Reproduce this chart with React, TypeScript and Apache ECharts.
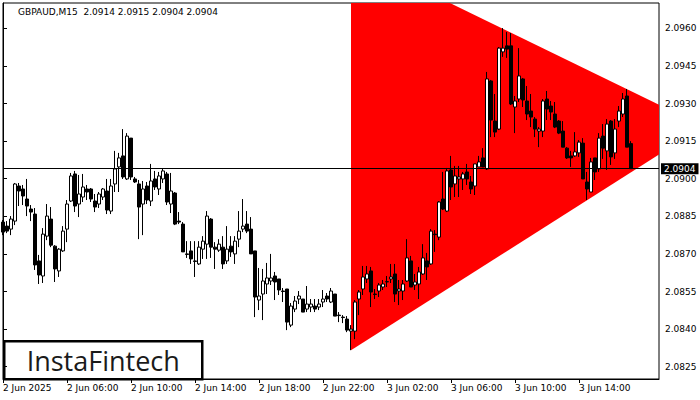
import React, { useEffect, useRef } from "react";
import * as echarts from "echarts";

const xLabels = ["2 Jun 2025", "2 Jun 06:00", "2 Jun 10:00", "2 Jun 14:00", "2 Jun 18:00", "2 Jun 22:00", "3 Jun 02:00", "3 Jun 06:00", "3 Jun 10:00", "3 Jun 14:00"];
const barsPerLabel = 16;
const slotCount = 165;

const opens = [
  2.08827, 2.08811, 2.08799, 2.08831, 2.08971, 2.08959, 2.08919, 2.08879, 2.08859, 2.08672,
  2.08612, 2.08771, 2.08839, 2.08731, 2.08632, 2.08712, 2.08799, 2.08911, 2.09019, 2.08899,
  2.08927, 2.08959, 2.08959, 2.08911, 2.08899, 2.08927, 2.08951, 2.08871, 2.08979, 2.09047,
  2.09091, 2.08999, 2.09162, 2.08999, 2.08979, 2.08899, 2.08971, 2.08911, 2.08999, 2.08959,
  2.08999, 2.09019, 2.08899, 2.08943, 2.08831, 2.08819, 2.08700, 2.08712, 2.08672, 2.08660,
  2.08719, 2.08739, 2.08839, 2.08727, 2.08715, 2.08727, 2.08672, 2.08731, 2.08700, 2.08759,
  2.08799, 2.08819, 2.08799, 2.08712, 2.08516, 2.08540, 2.08580, 2.08592, 2.08612, 2.08600,
  2.08552, 2.08560, 2.08416, 2.08480, 2.08520, 2.08520, 2.08480, 2.08488, 2.08492, 2.08488,
  2.08508, 2.08532, 2.08508, 2.08540, 2.08456, 2.08448, 2.08440, 2.08392, 2.08392, 2.08520,
  2.08560, 2.08600, 2.08632, 2.08540, 2.08552, 2.08568, 2.08588, 2.08600, 2.08620, 2.08552,
  2.08552, 2.08592, 2.08672, 2.08576, 2.08580, 2.08620, 2.08672, 2.08660, 2.08779, 2.08767,
  2.08919, 2.08871, 2.09035, 2.08979, 2.08999, 2.08999, 2.09027, 2.08987, 2.08971, 2.09047,
  2.09083, 2.09039, 2.09390, 2.09230, 2.09198, 2.09506, 2.09530, 2.09530, 2.09286, 2.09318,
  2.09398, 2.09310, 2.09270, 2.09238, 2.09190, 2.09190, 2.09318, 2.09290, 2.09258, 2.09230,
  2.09190, 2.09122, 2.09091, 2.09091, 2.09103, 2.09142, 2.08987, 2.08947, 2.09083, 2.09039,
  2.09170, 2.09111, 2.09230, 2.09103, 2.09230, 2.09258, 2.09330, 2.0914,
];
const highs = [
  2.08835, 2.08831, 2.08851, 2.08983, 2.08983, 2.08975, 2.08999, 2.08895, 2.08883, 2.08696,
  2.08803, 2.08899, 2.08887, 2.08735, 2.08723, 2.08811, 2.08915, 2.09023, 2.09031, 2.09015,
  2.09019, 2.08975, 2.08963, 2.08939, 2.08947, 2.08963, 2.08999, 2.08999, 2.09111, 2.09103,
  2.09198, 2.09182, 2.09162, 2.09007, 2.08995, 2.08991, 2.08987, 2.09059, 2.09031, 2.09027,
  2.09039, 2.09027, 2.09023, 2.08947, 2.08867, 2.08827, 2.08751, 2.08751, 2.08751, 2.08751,
  2.08771, 2.08871, 2.08843, 2.08747, 2.08759, 2.08771, 2.08811, 2.08771, 2.08771, 2.08871,
  2.08919, 2.08871, 2.08847, 2.08712, 2.08644, 2.08640, 2.08664, 2.08700, 2.08628, 2.08600,
  2.08564, 2.08560, 2.08504, 2.08532, 2.08552, 2.08520, 2.08572, 2.08520, 2.08520, 2.08520,
  2.08556, 2.08544, 2.08564, 2.08540, 2.08468, 2.08456, 2.08452, 2.08416, 2.08516, 2.08556,
  2.08652, 2.08652, 2.08648, 2.08560, 2.08584, 2.08596, 2.08612, 2.08660, 2.08660, 2.08596,
  2.08596, 2.08759, 2.08692, 2.08620, 2.08648, 2.08739, 2.08704, 2.08799, 2.08795, 2.08911,
  2.09027, 2.09043, 2.09091, 2.09051, 2.09051, 2.09027, 2.09059, 2.09011, 2.09059, 2.09091,
  2.09122, 2.09426, 2.09394, 2.09338, 2.09525, 2.09601, 2.09585, 2.09581, 2.09330, 2.09521,
  2.09402, 2.09370, 2.09338, 2.09246, 2.09206, 2.09318, 2.09350, 2.09310, 2.09306, 2.09234,
  2.09230, 2.09126, 2.09111, 2.09186, 2.09154, 2.09162, 2.09027, 2.09083, 2.09083, 2.09182,
  2.09218, 2.09238, 2.09234, 2.09238, 2.09290, 2.09342, 2.09358, 2.0915,
];
const lows = [
  2.08775, 2.08783, 2.08775, 2.08815, 2.08891, 2.08895, 2.08851, 2.08831, 2.08636, 2.08580,
  2.08584, 2.08755, 2.08727, 2.08588, 2.08608, 2.08708, 2.08747, 2.08907, 2.08867, 2.08847,
  2.08907, 2.08915, 2.08907, 2.08867, 2.08883, 2.08915, 2.08859, 2.08859, 2.08947, 2.08947,
  2.08999, 2.08995, 2.08995, 2.08983, 2.08759, 2.08775, 2.08899, 2.08891, 2.08955, 2.08935,
  2.08983, 2.08895, 2.08863, 2.08815, 2.08819, 2.08708, 2.08684, 2.08660, 2.08608, 2.08656,
  2.08680, 2.08680, 2.08684, 2.08640, 2.08708, 2.08640, 2.08660, 2.08688, 2.08660, 2.08727,
  2.08787, 2.08783, 2.08700, 2.08448, 2.08476, 2.08436, 2.08540, 2.08576, 2.08516, 2.08536,
  2.08508, 2.08396, 2.08408, 2.08468, 2.08500, 2.08468, 2.08468, 2.08468, 2.08468, 2.08476,
  2.08488, 2.08508, 2.08504, 2.08452, 2.08428, 2.08424, 2.08388, 2.08316, 2.08360, 2.08456,
  2.08536, 2.08584, 2.08488, 2.08520, 2.08528, 2.08556, 2.08568, 2.08584, 2.08508, 2.08496,
  2.08516, 2.08588, 2.08568, 2.08556, 2.08520, 2.08616, 2.08596, 2.08656, 2.08708, 2.08755,
  2.08875, 2.08867, 2.08915, 2.08927, 2.08927, 2.08955, 2.08975, 2.08939, 2.08935, 2.09047,
  2.09047, 2.09035, 2.09166, 2.09166, 2.09194, 2.09486, 2.09482, 2.09294, 2.09182, 2.09306,
  2.09286, 2.09234, 2.09206, 2.09166, 2.09126, 2.09166, 2.09234, 2.09234, 2.09202, 2.09178,
  2.09126, 2.09079, 2.09047, 2.09087, 2.09087, 2.08999, 2.08915, 2.08947, 2.08995, 2.09027,
  2.09079, 2.09035, 2.09055, 2.09079, 2.09206, 2.09246, 2.09126, 2.0904,
];
const closes = [
  2.08787, 2.08791, 2.08839, 2.08979, 2.08951, 2.08931, 2.08891, 2.08867, 2.08656, 2.08616,
  2.08779, 2.08851, 2.08735, 2.08640, 2.08719, 2.08791, 2.08899, 2.09011, 2.08891, 2.08939,
  2.08967, 2.08947, 2.08919, 2.08887, 2.08939, 2.08959, 2.08875, 2.08971, 2.09039, 2.09083,
  2.09007, 2.09170, 2.09007, 2.08987, 2.08887, 2.08959, 2.08915, 2.08991, 2.08967, 2.09011,
  2.09031, 2.08907, 2.08951, 2.08819, 2.08827, 2.08708, 2.08698, 2.08680, 2.08670, 2.08727,
  2.08751, 2.08851, 2.08727, 2.08719, 2.08739, 2.08660, 2.08719, 2.08708, 2.08751, 2.08791,
  2.08811, 2.08791, 2.08700, 2.08528, 2.08532, 2.08592, 2.08604, 2.08604, 2.08588, 2.08556,
  2.08550, 2.08428, 2.08492, 2.08512, 2.08532, 2.08468, 2.08500, 2.08500, 2.08480, 2.08500,
  2.08520, 2.08520, 2.08552, 2.08452, 2.08454, 2.08446, 2.08396, 2.08400, 2.08508, 2.08548,
  2.08608, 2.08620, 2.08548, 2.08538, 2.08576, 2.08580, 2.08590, 2.08608, 2.08540, 2.08560,
  2.08580, 2.08684, 2.08568, 2.08588, 2.08628, 2.08684, 2.08648, 2.08791, 2.08777, 2.08907,
  2.08879, 2.09031, 2.08967, 2.09011, 2.09007, 2.09019, 2.08999, 2.08959, 2.09059, 2.09067,
  2.09047, 2.09398, 2.09234, 2.09186, 2.09521, 2.09521, 2.09517, 2.09298, 2.09310, 2.09410,
  2.09314, 2.09258, 2.09246, 2.09198, 2.09198, 2.09310, 2.09278, 2.09266, 2.09206, 2.09182,
  2.09126, 2.09083, 2.09083, 2.09107, 2.09146, 2.08999, 2.08959, 2.09067, 2.09027, 2.09162,
  2.09122, 2.09218, 2.09087, 2.09198, 2.09270, 2.09318, 2.09126, 2.0904,
];

const yTicks = [2.0825, 2.084, 2.0855, 2.087, 2.0885, 2.09, 2.0915, 2.093, 2.0945, 2.096];
const yMin = 2.08201;
const yMax = 2.09701;

// Triangle pattern vertices: bar index and price
const triangleIdx = [87, 87, 175.1];
const trianglePrice = [2.09893, 2.08316, 2.09209];

const symbol = "GBPAUD,M15";
const logoText = "InstaFintech";

const axisFont = "DejaVu Sans";
const axisFontSize = 9;

export default function App() {
  const ref = useRef<HTMLDivElement>(null);

  useEffect(() => {
    document.body.style.margin = "0";
    if (!ref.current) return;
    const chart = echarts.init(ref.current, null, { renderer: "svg" });
    const categories = Array.from({ length: slotCount }, (_, i) => String(i));
    const ohlc = opens.map((o, i) => [o, closes[i], lows[i], highs[i]]);
    const last = opens.length - 1;
    const fmt = (v: number) => v.toFixed(4);
    const header = `${symbol}  ${fmt(opens[last])} ${fmt(highs[last])} ${fmt(lows[last])} ${fmt(closes[last])}`;
    const showIdx = (index: number) => index % barsPerLabel === 0 && index / barsPerLabel < xLabels.length;

    chart.setOption({
      animation: false,
      backgroundColor: "#ffffff",
      textStyle: { fontFamily: axisFont },
      grid: {
        left: 3,
        right: 41,
        top: 3,
        bottom: 21,
        show: true,
        borderColor: "#000",
        borderWidth: 1,
        backgroundColor: "transparent",
      },
      xAxis: [
        {
          type: "category",
          data: categories,
          boundaryGap: false,
          axisLine: { show: true, lineStyle: { color: "#000", width: 1 } },
          axisTick: { show: true, interval: showIdx, length: 4, lineStyle: { color: "#000" } },
          axisLabel: {
            show: true,
            interval: showIdx,
            showMinLabel: true,
            formatter: (_v: string, index: number) => xLabels[index / barsPerLabel] ?? "",
            align: "left",
            color: "#000",
            fontFamily: axisFont,
            fontSize: axisFontSize,
            margin: 4,
          },
          splitLine: { show: false },
        },
        {
          type: "value",
          min: 0,
          max: slotCount - 1,
          show: false,
        },
      ],
      yAxis: {
        type: "value",
        position: "right",
        min: yMin,
        max: yMax,
        axisLine: { show: true, lineStyle: { color: "#000", width: 1 } },
        axisTick: { show: true, customValues: yTicks, length: 4, lineStyle: { color: "#000" } },
        axisLabel: {
          customValues: yTicks,
          formatter: (v: number) => v.toFixed(4),
          color: "#000",
          fontFamily: axisFont,
          fontSize: axisFontSize,
          margin: 6,
        },
        splitLine: { show: false },
      },
      series: [
        {
          type: "custom",
          xAxisIndex: 1,
          yAxisIndex: 0,
          clip: true,
          silent: true,
          z: 1,
          data: [[triangleIdx[0], trianglePrice[0]]],
          renderItem: (_params: any, api: any) => {
            const pts = triangleIdx.map((x, i) => api.coord([x, trianglePrice[i]]));
            return {
              type: "polygon",
              shape: { points: pts },
              style: { fill: "#ff0000", stroke: null },
            };
          },
        },
        {
          type: "candlestick",
          xAxisIndex: 0,
          yAxisIndex: 0,
          z: 3,
          barWidth: 3,
          silent: true,
          data: ohlc,
          itemStyle: {
            color: "#ffffff",
            color0: "#000000",
            borderColor: "#000000",
            borderColor0: "#000000",
            borderWidth: 1,
          },
          emphasis: { disabled: true },
          markLine: {
            silent: true,
            precision: 5,
            symbol: ["none", "none"],
            animation: false,
            lineStyle: { color: "#000", width: 1, type: "solid" },
            label: {
              show: true,
              position: "end",
              distance: 2,
              formatter: (p: any) => Number(p.value).toFixed(4),
              backgroundColor: "#000",
              color: "#fff",
              fontFamily: axisFont,
              fontSize: axisFontSize,
              padding: [1, 3, 1, 3],
            },
            data: [{ yAxis: closes[last] }],
          },
        },
      ],
      graphic: [
        {
          type: "text",
          left: 18,
          top: 7,
          silent: true,
          style: {
            text: header,
            fill: "#000",
            font: `${axisFontSize}px "${axisFont}"`,
          },
        },
        {
          type: "group",
          left: 3,
          top: 340,
          silent: true,
          children: [
            {
              type: "rect",
              shape: { x: 0, y: 0, width: 198, height: 38 },
              style: { fill: "#ffffff", stroke: "#000", lineWidth: 2.5 },
            },
            {
              type: "text",
              x: 99,
              y: 19,
              style: {
                text: logoText,
                fill: "#1a1a1a",
                font: '27px "Open Sans"',
                align: "center",
                verticalAlign: "middle",
              },
            },
          ],
        },
      ],
    });

    return () => chart.dispose();
  }, []);

  return <div ref={ref} style={{ width: 700, height: 400 }} />;
}
